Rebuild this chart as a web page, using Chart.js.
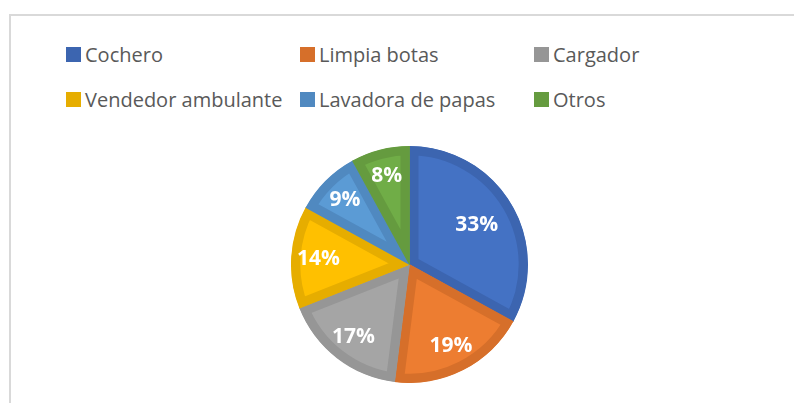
<!DOCTYPE html>
<html>
<head>
<meta charset="utf-8">
<script src="https://cdn.jsdelivr.net/npm/chart.js@4.4.1/dist/chart.umd.min.js"></script>
<style>
    html, body { margin: 0; padding: 0; background: #fff; }
    body { width: 794px; height: 403px; position: relative; overflow: hidden; font-family: 'Open Sans', sans-serif; }
    .frame { position: absolute; left: 9px; top: 14px; width: 800px; height: 400px; border: 2px solid #d9d9d9; box-sizing: border-box; }
    .legend { position: absolute; left: 66px; top: 41px; width: 720px; }
    .legend-item { position: absolute; display: flex; align-items: center; color: #595959; font-size: 20px; white-space: nowrap; }
    .legend-item span.box { width: 15px; height: 15px; margin-right: 4px; display: inline-block; }
    .pie-wrap { position: absolute; left: 291px; top: 146px; width: 237px; height: 237px; }
</style>
</head>
<body>
<div class="frame"></div>
<div class="legend" id="legend"></div>
<div class="pie-wrap"><canvas id="pieChart"></canvas></div>
<script>
const labels = ['Cochero', 'Limpia botas', 'Cargador', 'Vendedor ambulante', 'Lavadora de papas', 'Otros'];
const values = [33, 19, 17, 14, 9, 8];
const fillColors = ['#4472c4', '#ed7d31', '#a5a5a5', '#ffc000', '#5b9bd5', '#70ad47'];
const edgeColors = ['#3c65b0', '#d66f2a', '#969696', '#e6ad00', '#5089c0', '#659b3f'];

// legend laid out in a 3 x 2 grid, like the Excel original
function renderLegend() {
    const container = document.getElementById('legend');
    labels.forEach((label, i) => {
        const item = document.createElement('div');
        item.className = 'legend-item';
        item.style.left = (i % 3) * 234 + 'px';
        item.style.top = Math.floor(i / 3) * 45 + 'px';
        const box = document.createElement('span');
        box.className = 'box';
        box.style.background = edgeColors[i];
        item.appendChild(box);
        item.appendChild(document.createTextNode(label));
        container.appendChild(item);
    });
}

const sliceLabels = {
    id: 'sliceLabels',
    afterDatasetsDraw(chart) {
        const ctx = chart.ctx;
        const total = values.reduce((a, b) => a + b, 0);
        chart.getDatasetMeta(0).data.forEach((arc, i) => {
            const { x, y, startAngle, endAngle, outerRadius } = arc.getProps(['x', 'y', 'startAngle', 'endAngle', 'outerRadius'], true);
            const mid = (startAngle + endAngle) / 2;
            const pct = Math.round(values[i] / total * 100);
            const r = outerRadius * (pct > 25 ? 0.66 : 0.77);
            ctx.save();
            ctx.fillStyle = '#ffffff';
            ctx.font = 'bold 21px "Open Sans"';
            ctx.textAlign = 'center';
            ctx.textBaseline = 'middle';
            ctx.fillText(pct + '%', x + Math.cos(mid) * r, y + Math.sin(mid) * r);
            ctx.restore();
        });
    }
};

document.addEventListener('DOMContentLoaded', () => {
    renderLegend();
    const ctx = document.getElementById('pieChart').getContext('2d');
    new Chart(ctx, {
        type: 'pie',
        data: {
            labels: labels,
            datasets: [{
                data: values,
                backgroundColor: fillColors,
                borderColor: edgeColors,
                borderWidth: 9,
                borderAlign: 'inner',
                hoverOffset: 0
            }]
        },
        options: {
            responsive: true,
            maintainAspectRatio: false,
            animation: false,
            events: [],
            layout: { padding: 0 },
            plugins: { legend: { display: false }, tooltip: { enabled: false } }
        },
        plugins: [sliceLabels]
    });
});
</script>
</body>
</html>
